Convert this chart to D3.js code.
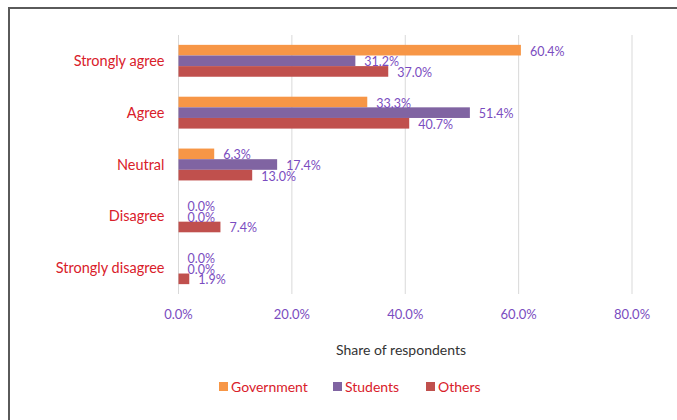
<!DOCTYPE html>
<html>
<head>
<meta charset="utf-8">
<script src="https://cdn.jsdelivr.net/npm/d3@7"></script>
<style>
  body { margin: 0; background: #fff; }
  svg { display: block; font-family: Lato, "Open Sans", sans-serif; }
</style>
</head>
<body>
<div class="vis-barchart"></div>
<script>
const categories = ['Strongly agree', 'Agree', 'Neutral', 'Disagree', 'Strongly disagree'];
const seriesNames = ['Government', 'Students', 'Others'];
const government = [60.4, 33.3, 6.3, 0.0, 0.0];
const students = [31.2, 51.4, 17.4, 0.0, 0.0];
const others = [37.0, 40.7, 13.0, 7.4, 1.9];
const xTicks = [0, 20, 40, 60, 80];
const colors = ['#f79646', '#8064a2', '#c0504d'];

const seriesValues = [government, students, others];

const W = 677, H = 420;
const margin = { top: 35, right: 45, bottom: 126, left: 178.5 };
const width = W - margin.left - margin.right;
const height = H - margin.top - margin.bottom;

const svg = d3.select('.vis-barchart')
    .append('svg')
    .attr('width', W)
    .attr('height', H);

// outer frame
svg.append('rect')
    .attr('x', 9)
    .attr('y', 8)
    .attr('width', W + 20)
    .attr('height', H + 20)
    .attr('fill', 'none')
    .attr('stroke', '#5a5a5a')
    .attr('stroke-width', 2);

const g = svg.append('g')
    .attr('transform', 'translate(' + margin.left + ',' + margin.top + ')');

const x = d3.scaleLinear().domain([0, 80]).range([0, width]);
const y = d3.scaleBand().domain(categories).range([0, height]).paddingInner(0.385).paddingOuter(0.19);
const ySub = d3.scaleBand().domain(seriesNames).range([0, y.bandwidth()]);

// gridlines
g.selectAll('.grid')
    .data(xTicks)
    .enter()
    .append('line')
    .attr('x1', d => x(d))
    .attr('x2', d => x(d))
    .attr('y1', 0)
    .attr('y2', height)
    .attr('stroke', '#d9d9d9')
    .attr('stroke-width', 1);

// bars
const rows = [];
categories.forEach((c, i) => {
    seriesNames.forEach((s, j) => {
        rows.push({ cat: c, series: s, value: seriesValues[j][i], color: colors[j] });
    });
});

g.selectAll('.bar')
    .data(rows)
    .enter()
    .append('rect')
    .attr('class', 'bar')
    .attr('x', x(0))
    .attr('y', d => y(d.cat) + ySub(d.series))
    .attr('width', d => x(d.value) - x(0))
    .attr('height', ySub.bandwidth())
    .attr('fill', d => d.color);

// value labels
g.selectAll('.lbl')
    .data(rows)
    .enter()
    .append('text')
    .attr('x', d => x(d.value) + 9)
    .attr('y', d => y(d.cat) + ySub(d.series) + ySub.bandwidth() / 2 + 5.5)
    .attr('fill', '#7a4cc0')
    .style('font-size', '12.5px')
    .text(d => d.value.toFixed(1) + '%');

// y axis labels
g.selectAll('.cat')
    .data(categories)
    .enter()
    .append('text')
    .attr('x', -14)
    .attr('y', d => y(d) + y.bandwidth() / 2 + 5)
    .attr('text-anchor', 'end')
    .attr('fill', '#d9202a')
    .style('font-size', '14.5px')
    .text(d => d);

// x axis labels
g.selectAll('.tick-lbl')
    .data(xTicks)
    .enter()
    .append('text')
    .attr('x', d => x(d))
    .attr('y', height + 25)
    .attr('text-anchor', 'middle')
    .attr('fill', '#7a4cc0')
    .style('font-size', '13px')
    .text(d => d.toFixed(1) + '%');

// axis title
svg.append('text')
    .attr('x', 401)
    .attr('y', 355)
    .attr('text-anchor', 'middle')
    .attr('fill', '#333')
    .style('font-size', '14px')
    .text('Share of respondents');

// legend
const legendX = [219, 333, 426];
const legend = svg.selectAll('.legend')
    .data(seriesNames)
    .enter()
    .append('g')
    .attr('transform', (d, i) => 'translate(' + legendX[i] + ',392)');
legend.append('rect')
    .attr('y', -10)
    .attr('width', 9)
    .attr('height', 9)
    .attr('fill', (d, i) => colors[i]);
legend.append('text')
    .attr('x', 12)
    .attr('fill', '#d9202a')
    .style('font-size', '14px')
    .text(d => d);
</script>
</body>
</html>
